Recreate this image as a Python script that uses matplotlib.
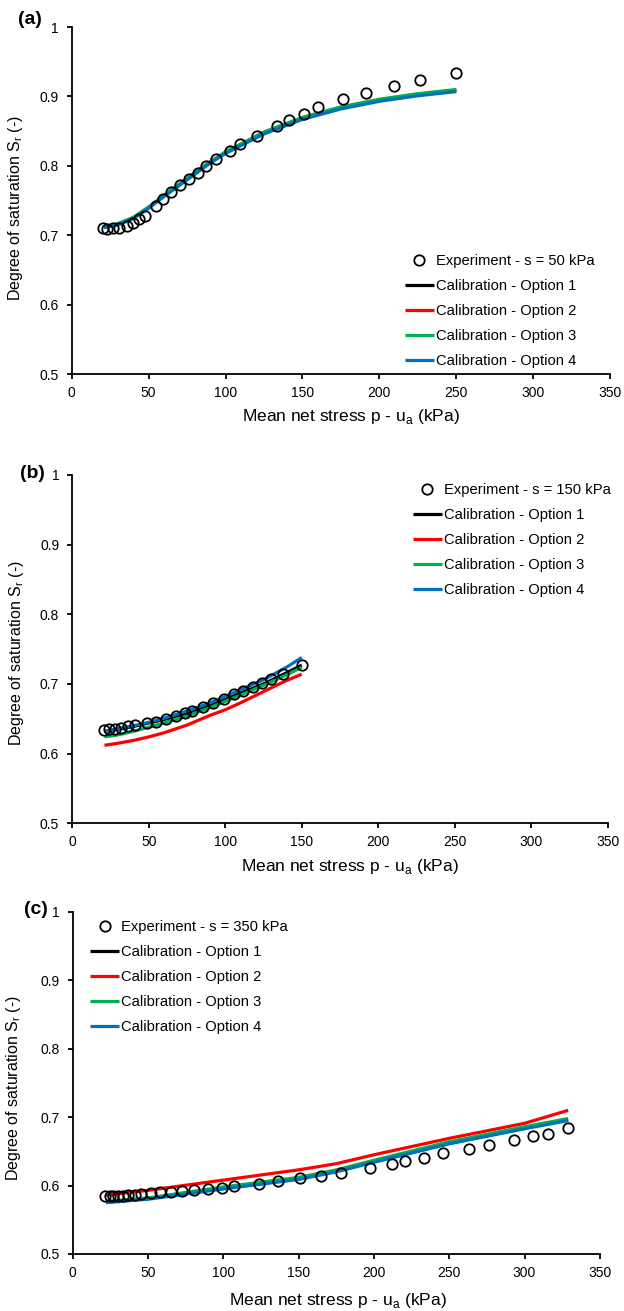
import matplotlib
matplotlib.use('Agg')
import matplotlib.pyplot as plt

plt.rcParams['font.family'] = ['Liberation Sans', 'DejaVu Sans']

# colours of the four calibration options (Excel style)
colors = ['black', '#FF0000', '#00B050', '#0070C0']
opt_labels = ['Calibration - Option 1', 'Calibration - Option 2',
              'Calibration - Option 3', 'Calibration - Option 4']

# ---- (a) s = 50 kPa
a_exp_p = [20.2, 22.8, 26.6, 30.5, 35.7, 39.6, 44.0, 47.9, 54.8, 59.5, 64.7, 70.4, 76.3, 82.0,
           87.4, 93.9, 102.7, 109.7, 120.3, 133.2, 141.0, 150.8, 160.4, 176.4, 191.4, 209.5,
           226.3, 250.1]
a_exp_sr = [0.710, 0.709, 0.710, 0.711, 0.714, 0.718, 0.723, 0.728, 0.742, 0.752, 0.762, 0.773,
            0.781, 0.790, 0.800, 0.810, 0.822, 0.832, 0.843, 0.858, 0.866, 0.875, 0.885, 0.896,
            0.905, 0.915, 0.924, 0.934]
a_p = [21, 30, 40, 50, 60, 75, 90, 100, 125, 150, 175, 200, 225, 250]
a_opt1 = [0.712, 0.716, 0.725, 0.740, 0.757, 0.781, 0.805, 0.819, 0.848, 0.869, 0.884, 0.895, 0.903, 0.909]
a_opt2 = [0.712, 0.716, 0.725, 0.740, 0.757, 0.782, 0.806, 0.820, 0.848, 0.869, 0.884, 0.895, 0.903, 0.909]
a_opt3 = [0.712, 0.717, 0.726, 0.741, 0.758, 0.782, 0.806, 0.820, 0.849, 0.870, 0.885, 0.896, 0.904, 0.910]
a_opt4 = [0.711, 0.715, 0.724, 0.739, 0.756, 0.780, 0.804, 0.818, 0.846, 0.867, 0.882, 0.893, 0.901, 0.907]

# ---- (b) s = 150 kPa
b_exp_p = [20.8, 24.1, 28.0, 31.9, 36.3, 41.0, 48.8, 54.8, 61.3, 67.5, 73.5, 78.2, 85.2, 92.2,
           99.4, 105.9, 111.6, 118.4, 124.1, 130.1, 137.6, 150.1]
b_exp_sr = [0.634, 0.635, 0.636, 0.637, 0.639, 0.641, 0.644, 0.646, 0.650, 0.654, 0.658, 0.661,
            0.667, 0.672, 0.679, 0.685, 0.690, 0.696, 0.701, 0.707, 0.714, 0.727]
b_p = [21, 30, 40, 50, 60, 75, 90, 100, 110, 125, 140, 150]
b_opt1 = [0.632, 0.635, 0.639, 0.644, 0.649, 0.658, 0.670, 0.678, 0.687, 0.700, 0.716, 0.727]
b_opt2 = [0.612, 0.615, 0.619, 0.624, 0.630, 0.641, 0.655, 0.663, 0.673, 0.689, 0.705, 0.714]
b_opt3 = [0.624, 0.627, 0.632, 0.638, 0.644, 0.654, 0.666, 0.675, 0.684, 0.698, 0.713, 0.724]
b_opt4 = [0.632, 0.636, 0.640, 0.645, 0.651, 0.661, 0.673, 0.682, 0.692, 0.706, 0.724, 0.738]

# ---- (c) s = 350 kPa
c_exp_p = [21.7, 24.4, 27.0, 30.2, 33.6, 36.8, 41.6, 45.5, 51.6, 58.2, 64.9, 72.8, 80.7, 90.0,
           99.0, 107.0, 123.6, 136.1, 150.6, 164.7, 178.4, 197.2, 212.3, 220.8, 233.0, 246.0,
           263.2, 276.7, 293.1, 305.5, 315.6, 328.8]
c_exp_sr = [0.585, 0.585, 0.585, 0.585, 0.585, 0.586, 0.586, 0.587, 0.589, 0.590, 0.591, 0.592,
            0.593, 0.595, 0.597, 0.600, 0.603, 0.607, 0.611, 0.614, 0.619, 0.626, 0.631, 0.636,
            0.641, 0.647, 0.654, 0.659, 0.666, 0.672, 0.676, 0.684]
c_p = [22, 50, 100, 150, 175, 200, 250, 300, 329]
c_opt1 = [0.576, 0.581, 0.596, 0.610, 0.621, 0.635, 0.662, 0.684, 0.696]
c_opt2 = [0.586, 0.593, 0.608, 0.623, 0.632, 0.645, 0.669, 0.691, 0.710]
c_opt3 = [0.577, 0.582, 0.598, 0.612, 0.623, 0.637, 0.664, 0.686, 0.698]
c_opt4 = [0.575, 0.580, 0.595, 0.609, 0.620, 0.634, 0.661, 0.683, 0.695]

panels = [
    ('(a)', a_exp_p, a_exp_sr, a_p, [a_opt1, a_opt2, a_opt3, a_opt4], 'Experiment - s = 50 kPa'),
    ('(b)', b_exp_p, b_exp_sr, b_p, [b_opt1, b_opt2, b_opt3, b_opt4], 'Experiment - s = 150 kPa'),
    ('(c)', c_exp_p, c_exp_sr, c_p, [c_opt1, c_opt2, c_opt3, c_opt4], 'Experiment - s = 350 kPa'),
]

# axes boxes in figure fractions [left, bottom, width, height]
boxes = [[0.115, 0.7145, 0.8627, 0.2649],
         [0.1159, 0.372, 0.858, 0.2657],
         [0.1167, 0.0435, 0.8445, 0.2609]]
legend_pos = [(0.619, 0.346), (0.636, 0.977), (0.033, 0.976)]
ylab_pos = [(-0.087, 0.48), (-0.087, 0.49), (-0.095, 0.485)]
xlab_pos = [(0.519, -0.095), (0.519, -0.098), (0.504, -0.108)]
tag_pos = [(30, 20), (32, 473), (36, 910)]

fig = plt.figure(figsize=(6.24, 13.11), dpi=100)

for i, (tag, ep, esr, p, opts, elabel) in enumerate(panels):
    ax = fig.add_axes(boxes[i])

    handles = []
    for k in range(4):
        h, = ax.plot(p, opts[k], color=colors[k], lw=2.3, label=opt_labels[k],
                     solid_capstyle='butt')
        handles.append(h)
    hexp, = ax.plot(ep, esr, 'o', mfc='none', mec='black', ms=7.5, mew=1.3, label=elabel)

    ax.set_xlim(0, 350)
    ax.set_ylim(0.5, 1.0)
    ax.set_xticks(range(0, 351, 50))
    ax.set_yticks([0.5, 0.6, 0.7, 0.8, 0.9, 1.0])
    ax.set_yticklabels(['0.5', '0.6', '0.7', '0.8', '0.9', '1'])

    for s in ['top', 'right']:
        ax.spines[s].set_visible(False)
    for s in ['left', 'bottom']:
        ax.spines[s].set_linewidth(1.3)
    ax.tick_params(axis='both', direction='out', length=3.5, width=1.3, labelsize=10)
    ax.tick_params(axis='x', pad=5)
    ax.tick_params(axis='y', pad=6)

    ax.set_xlabel('Mean net stress p - u$_\\mathregular{a}$ (kPa)', fontsize=12.5)
    ax.set_ylabel('Degree of saturation S$_\\mathregular{r}$ (-)', fontsize=11.5)
    ax.xaxis.set_label_coords(*xlab_pos[i])
    ax.yaxis.set_label_coords(*ylab_pos[i])

    ax.legend([hexp] + handles, [elabel] + opt_labels, loc='upper left',
              bbox_to_anchor=legend_pos[i], frameon=False, fontsize=10.6,
              borderpad=0, borderaxespad=0, handlelength=1.95, handletextpad=0.15,
              labelspacing=0.75)

    fig.text(tag_pos[i][0] / 624, 1 - tag_pos[i][1] / 1311, tag, fontsize=14,
             fontweight='bold', ha='center', va='center')

plt.savefig('out.png', dpi=100)
